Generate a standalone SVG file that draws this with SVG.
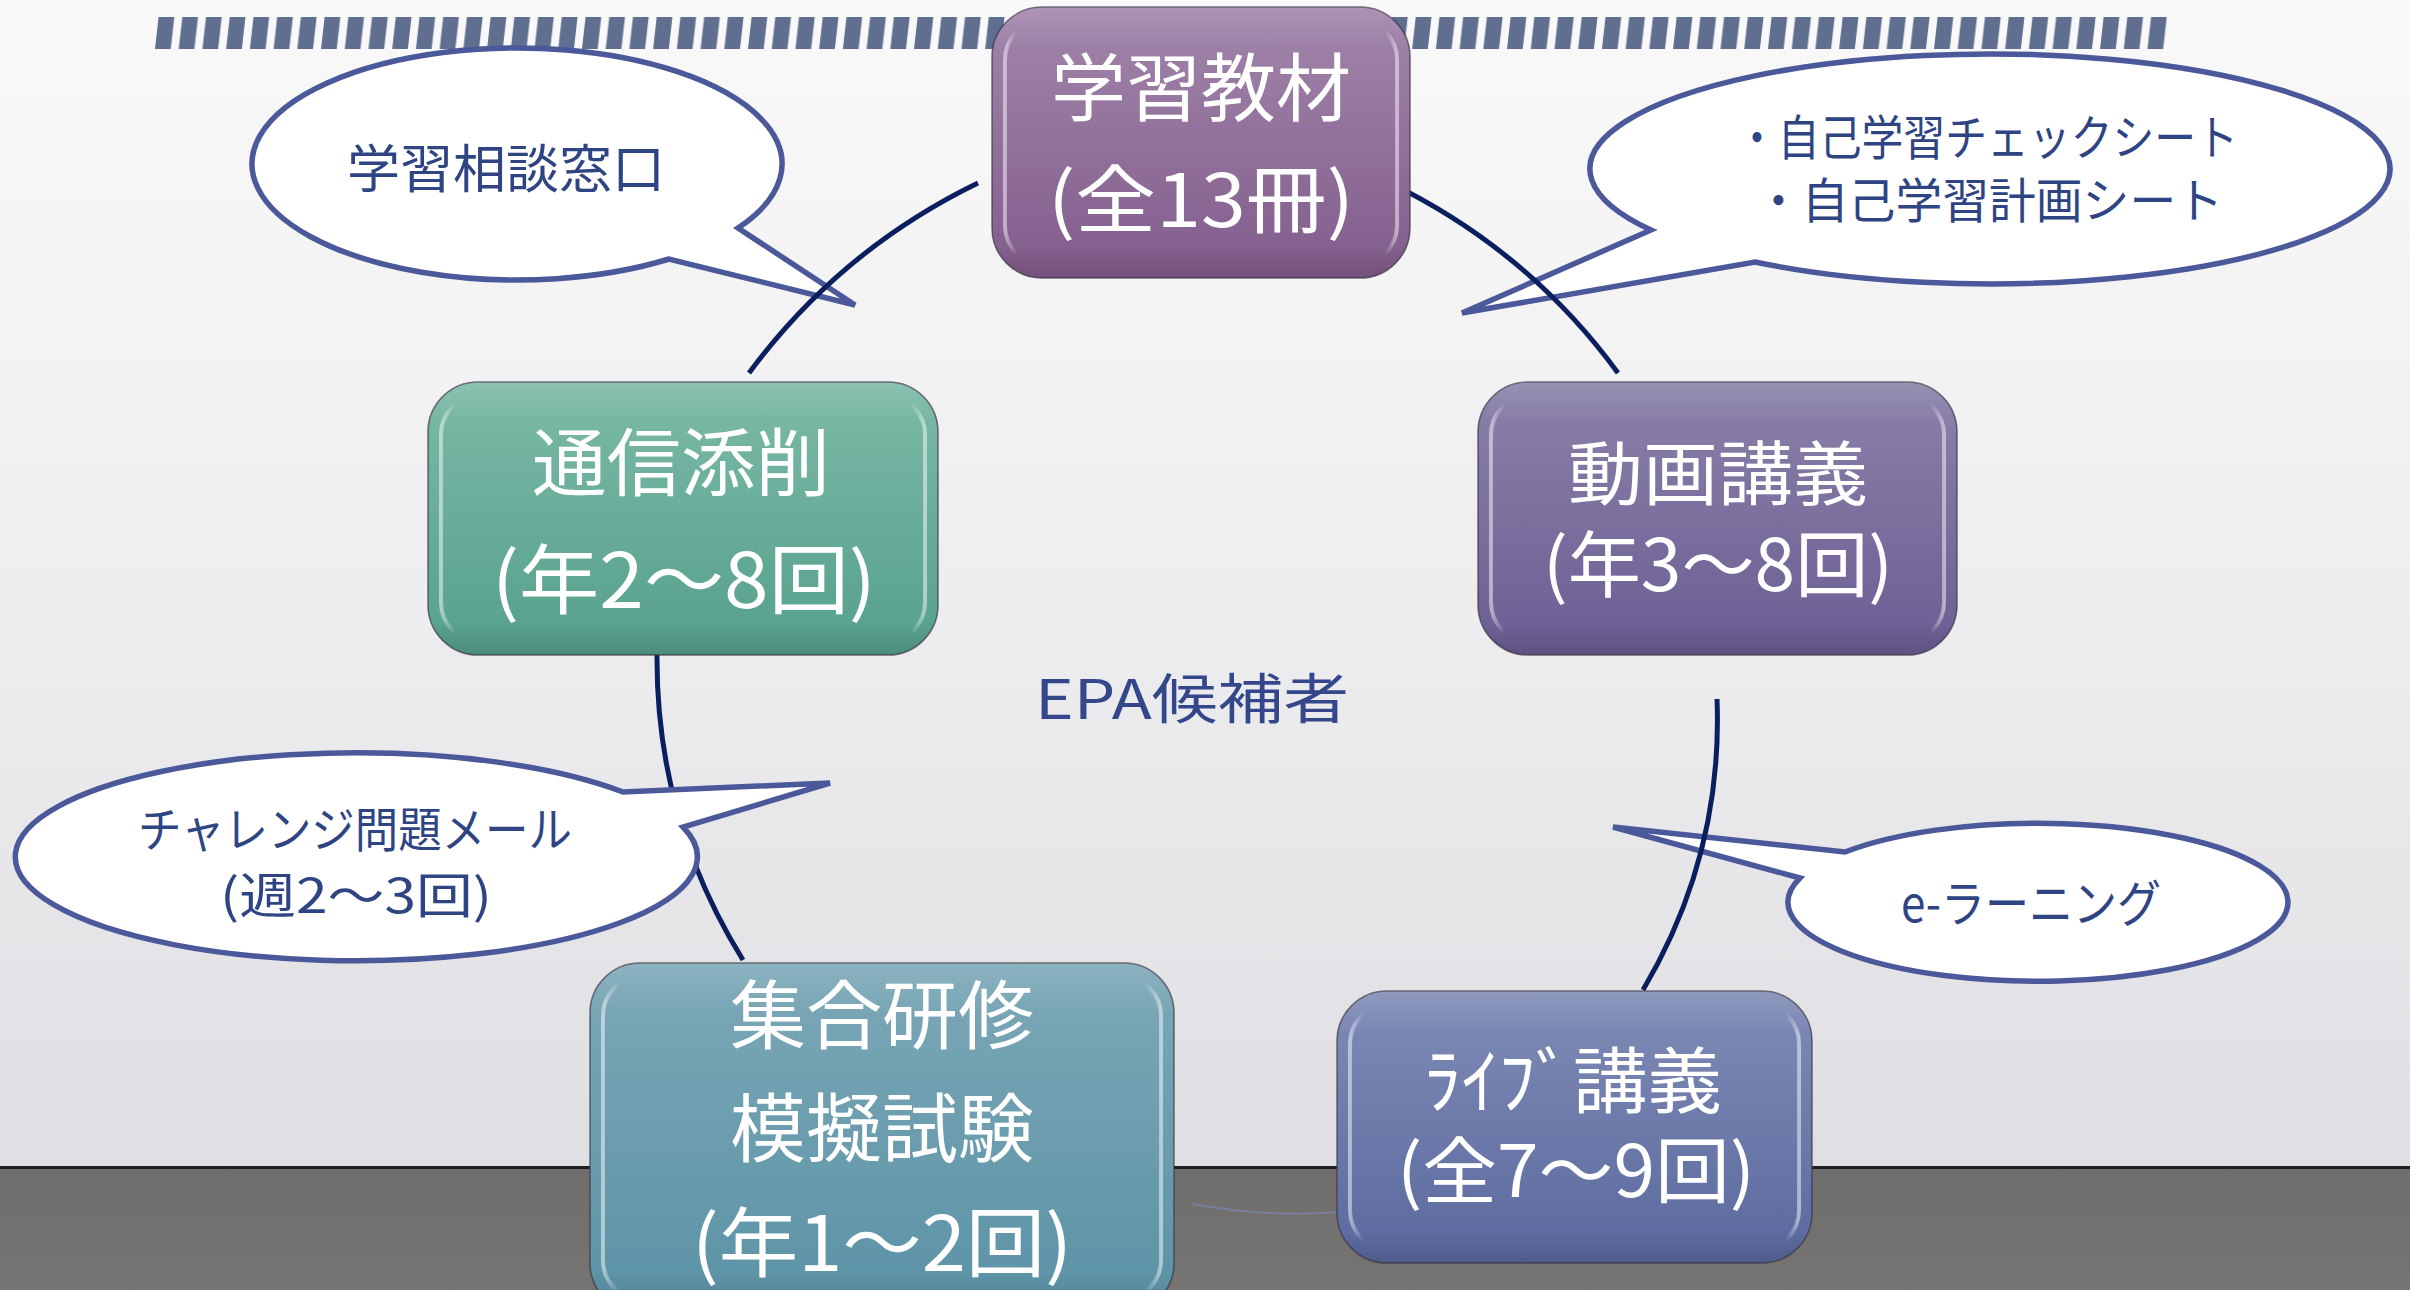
<svg xmlns="http://www.w3.org/2000/svg" width="2410" height="1290" viewBox="0 0 2410 1290">
<style>
.co{fill:#ffffff;stroke:#4b5899;stroke-width:5.5;stroke-linejoin:miter}
.ct{font-family:"Noto Sans CJK JP","Noto Sans",sans-serif;fill:#2f4483;text-anchor:middle}
.nt{font-family:"Noto Sans CJK JP","Noto Sans",sans-serif;fill:#ffffff;text-anchor:middle}
.ln{fill:none;stroke:#0b1f5e;stroke-width:5;stroke-linecap:butt}
.edge{stroke:#3b3346;stroke-width:1.5;stroke-opacity:0.7}
.bev{fill:none;stroke:url(#bevel);stroke-width:4}
</style>
<defs>
<linearGradient id="bg" x1="0" y1="0" x2="0" y2="1167" gradientUnits="userSpaceOnUse">
<stop offset="0" stop-color="#f9f9f9"/><stop offset="0.5" stop-color="#eeeef0"/><stop offset="1" stop-color="#dfdfe3"/>
</linearGradient>
<linearGradient id="floor" x1="0" y1="0" x2="0" y2="1">
<stop offset="0" stop-color="#706e6c"/><stop offset="1" stop-color="#767472"/>
</linearGradient>
<filter id="tex" x="0" y="0" width="100%" height="100%" color-interpolation-filters="sRGB">
<feTurbulence type="fractalNoise" baseFrequency="0.7" numOctaves="3" seed="5"/>
<feColorMatrix type="matrix" values="0 0 0 0 0.45  0 0 0 0 0.44  0 0 0 0 0.43  1.2 0 0 0 -0.45"/>
<feComponentTransfer><feFuncA type="linear" slope="0.5"/></feComponentTransfer>
</filter>
<pattern id="stripes" patternUnits="userSpaceOnUse" x="155" y="17" width="23.72" height="32">
<polygon points="3.6,0 19.3,0 15.7,32 0,32" fill="#606e90"/>
</pattern>
<linearGradient id="g1" x1="0" y1="0" x2="0" y2="1"><stop offset="0" stop-color="#a286ab"/><stop offset="1" stop-color="#815c8b"/></linearGradient>
<linearGradient id="g2" x1="0" y1="0" x2="0" y2="1"><stop offset="0" stop-color="#7cbaa7"/><stop offset="1" stop-color="#55a08c"/></linearGradient>
<linearGradient id="g3" x1="0" y1="0" x2="0" y2="1"><stop offset="0" stop-color="#8b82a9"/><stop offset="1" stop-color="#6b5d93"/></linearGradient>
<linearGradient id="g4" x1="0" y1="0" x2="0" y2="1"><stop offset="0" stop-color="#7ca8b7"/><stop offset="1" stop-color="#5a92a5"/></linearGradient>
<linearGradient id="g5" x1="0" y1="0" x2="0" y2="1"><stop offset="0" stop-color="#808cb6"/><stop offset="1" stop-color="#5a689e"/></linearGradient>
<linearGradient id="bevel" x1="0" y1="0" x2="1" y2="0">
<stop offset="0" stop-color="#ffffff" stop-opacity="0.5"/><stop offset="0.03" stop-color="#ffffff" stop-opacity="0"/>
<stop offset="0.97" stop-color="#ffffff" stop-opacity="0"/><stop offset="1" stop-color="#ffffff" stop-opacity="0.5"/>
</linearGradient>
<linearGradient id="shade" x1="0" y1="0" x2="0" y2="1">
<stop offset="0" stop-color="#ffffff" stop-opacity="0.12"/><stop offset="0.15" stop-color="#ffffff" stop-opacity="0"/>
<stop offset="0.88" stop-color="#000000" stop-opacity="0"/><stop offset="1" stop-color="#000000" stop-opacity="0.12"/>
</linearGradient>
</defs>

<!-- background -->
<rect x="0" y="0" width="2410" height="1167" fill="url(#bg)"/>
<rect x="0" y="1167" width="2410" height="123" fill="url(#floor)"/>
<rect x="0" y="1167" width="2410" height="123" filter="url(#tex)"/>
<rect x="0" y="1166" width="2410" height="3" fill="#1e1e1e"/>
<rect x="155" y="17" width="2012" height="32" fill="url(#stripes)"/>

<!-- callouts (behind connectors) -->
<g id="callout-soudan">
<path class="co" d="M 738,228 A 265 116 0 1 0 669,259 L 855,305 Z"/>
<text class="ct" x="506" y="188" font-size="52" textLength="318" lengthAdjust="spacingAndGlyphs">学習相談窓口</text>
</g>
<g id="callout-sheet">
<path class="co" d="M 1755,262 A 400 115 0 1 0 1651,230 L 1462,313 Z"/>
<text class="ct" x="1987" y="155" font-size="48" textLength="502" lengthAdjust="spacingAndGlyphs">・自己学習チェックシート</text>
<text class="ct" x="1989" y="218" font-size="48" textLength="468" lengthAdjust="spacingAndGlyphs">・自己学習計画シート</text>
</g>
<g id="callout-elearning">
<path class="co" d="M 1845,852 A 250 79 0 1 1 1800,878 L 1613,827 Z"/>
<text class="ct" x="2031" y="922" font-size="50" textLength="260" lengthAdjust="spacingAndGlyphs">e-ラーニング</text>
</g>

<!-- connectors -->
<g id="connectors">
<path class="ln" d="M 978,183 Q 840,250 749,373"/>
<path class="ln" d="M 1390,183 Q 1528,250 1618,373"/>
<path class="ln" d="M 657,655 Q 656,820 743,960"/>
<path class="ln" d="M 1717,699 Q 1723,855 1643,990"/>
<path d="M 1193,1204 Q 1300,1224 1407,1203" fill="none" stroke="#7a88c0" stroke-width="2" stroke-opacity="0.6"/>
</g>

<g id="callout-challenge">
<path class="co" d="M 683,827 A 341 104 0 1 1 623,792 L 830,783 Z"/>
<text class="ct" x="355" y="847" font-size="48" textLength="434" lengthAdjust="spacingAndGlyphs">チャレンジ問題メール</text>
<text class="ct" x="356" y="913" font-size="48" textLength="272" lengthAdjust="spacingAndGlyphs">(週2～3回)</text>
</g>

<!-- nodes -->
<g id="node-kyozai">
<rect x="992" y="7" width="418" height="271" rx="50" fill="url(#g1)" class="edge"/>
<rect x="992" y="7" width="418" height="271" rx="50" fill="url(#shade)"/>
<rect x="1005" y="20" width="392" height="245" rx="40" class="bev"/>
<text class="nt" x="1201" y="115" font-size="74" textLength="300" lengthAdjust="spacingAndGlyphs">学習教材</text>
<text class="nt" x="1201" y="227" font-size="74" textLength="306" lengthAdjust="spacingAndGlyphs">(全13冊)</text>
</g>
<g id="node-tensaku">
<rect x="428" y="382" width="510" height="273" rx="50" fill="url(#g2)" class="edge"/>
<rect x="428" y="382" width="510" height="273" rx="50" fill="url(#shade)"/>
<rect x="441" y="395" width="484" height="247" rx="40" class="bev"/>
<text class="nt" x="681" y="490" font-size="74" textLength="298" lengthAdjust="spacingAndGlyphs">通信添削</text>
<text class="nt" x="684" y="608" font-size="76" textLength="384" lengthAdjust="spacingAndGlyphs">(年2～8回)</text>
</g>
<g id="node-douga">
<rect x="1478" y="382" width="479" height="273" rx="50" fill="url(#g3)" class="edge"/>
<rect x="1478" y="382" width="479" height="273" rx="50" fill="url(#shade)"/>
<rect x="1491" y="395" width="453" height="247" rx="40" class="bev"/>
<text class="nt" x="1718" y="500" font-size="70" textLength="300" lengthAdjust="spacingAndGlyphs">動画講義</text>
<text class="nt" x="1718" y="591" font-size="72" textLength="350" lengthAdjust="spacingAndGlyphs">(年3～8回)</text>
</g>
<g id="node-shugo">
<rect x="590" y="963" width="584" height="350" rx="50" fill="url(#g4)" class="edge"/>
<rect x="590" y="963" width="584" height="350" rx="50" fill="url(#shade)"/>
<rect x="603" y="976" width="558" height="324" rx="40" class="bev"/>
<text class="nt" x="882" y="1043" font-size="75" textLength="304" lengthAdjust="spacingAndGlyphs">集合研修</text>
<text class="nt" x="882" y="1156" font-size="75" textLength="304" lengthAdjust="spacingAndGlyphs">模擬試験</text>
<text class="nt" x="882" y="1271" font-size="76" textLength="380" lengthAdjust="spacingAndGlyphs">(年1～2回)</text>
</g>
<g id="node-live">
<rect x="1337" y="991" width="475" height="272" rx="50" fill="url(#g5)" class="edge"/>
<rect x="1337" y="991" width="475" height="272" rx="50" fill="url(#shade)"/>
<rect x="1350" y="1004" width="449" height="246" rx="40" class="bev"/>
<text class="nt" x="1573" y="1107" font-size="72" textLength="298" lengthAdjust="spacingAndGlyphs">ﾗｲﾌﾞ講義</text>
<text class="nt" x="1576" y="1197" font-size="72" textLength="358" lengthAdjust="spacingAndGlyphs">(全7～9回)</text>
</g>

<g id="center-label">
<text x="1192" y="719" font-family="'Noto Sans CJK JP','Noto Sans',sans-serif" font-size="54" fill="#34478a" text-anchor="middle" textLength="314" lengthAdjust="spacingAndGlyphs">EPA候補者</text>
</g>
</svg>
